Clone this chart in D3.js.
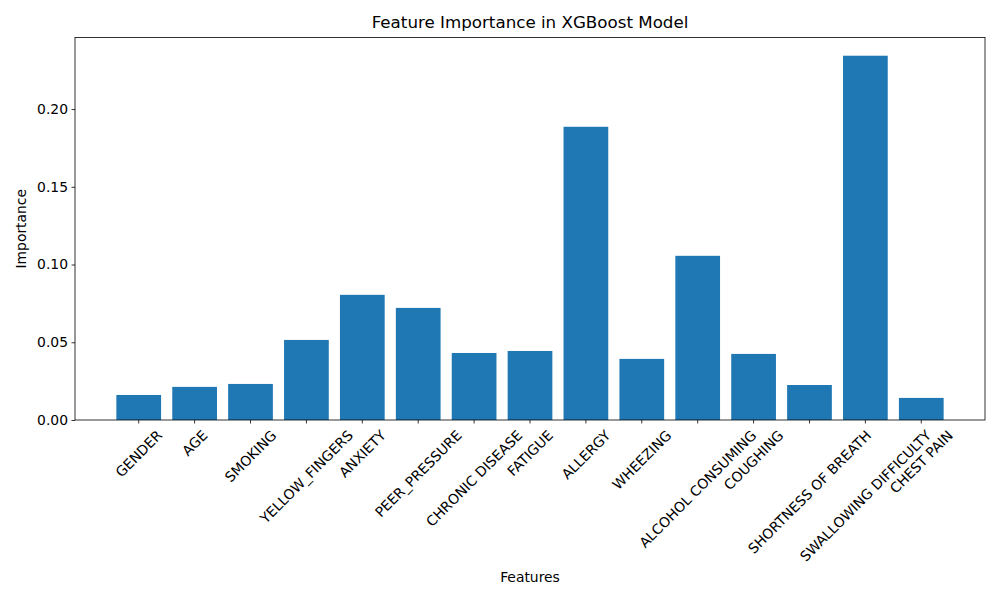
<!DOCTYPE html>
<html>
<head>
<meta charset="utf-8">
<script src="https://cdn.jsdelivr.net/npm/d3@7"></script>
<style>
  body { margin: 0; background: #fff; }
  text { font-family: "DejaVu Sans", sans-serif; fill: #000; }
</style>
</head>
<body>
<script>
// feature names and importance values
var features = ["GENDER", "AGE", "SMOKING", "YELLOW_FINGERS", "ANXIETY", "PEER_PRESSURE",
  "CHRONIC DISEASE", "FATIGUE", "ALLERGY", "WHEEZING", "ALCOHOL CONSUMING", "COUGHING",
  "SHORTNESS OF BREATH", "SWALLOWING DIFFICULTY", "CHEST PAIN"];
var importance = [0.0161, 0.0213, 0.0232, 0.0515, 0.0805, 0.0721,
  0.0431, 0.0444, 0.1886, 0.0393, 0.1056, 0.0425,
  0.0225, 0.2343, 0.0142];
var yTicks = [0, 0.05, 0.10, 0.15, 0.20];

var width = 1000, height = 600;
var margin = {top: 37.5, right: 15, bottom: 180, left: 75};
var barColor = "#1f77b4";
var fontPx = 13.9;

var svg = d3.select("body").append("svg")
    .attr("width", width)
    .attr("height", height);

// matplotlib-ish limits: bars of width 0.8, 5% margins
var n = features.length;
var xPad = (n - 1 + 0.8) * 0.05 + 0.4;
var x = d3.scaleLinear()
    .domain([-xPad, n - 1 + xPad])
    .range([margin.left, width - margin.right]);
var y = d3.scaleLinear()
    .domain([0, d3.max(importance) * 1.05])
    .range([height - margin.bottom, margin.top]);

var bw = x(0.8) - x(0);

svg.append("g").selectAll("rect")
    .data(importance)
    .enter().append("rect")
    .attr("x", function(d, i) { return x(i) - bw / 2; })
    .attr("y", function(d) { return y(d); })
    .attr("width", bw)
    .attr("height", function(d) { return y(0) - y(d); })
    .attr("fill", barColor);

// y axis
var yAxis = d3.axisLeft(y).tickValues(yTicks).tickFormat(d3.format(".2f")).tickSize(3.5).tickPadding(3.5);
var gy = svg.append("g").attr("transform", "translate(" + margin.left + ",0)").call(yAxis);
gy.select(".domain").remove();
gy.selectAll("text").style("font-size", fontPx + "px").style("font-family", "DejaVu Sans");
gy.selectAll("line").attr("stroke", "#000").attr("stroke-width", 0.8);

// x ticks
var gx = svg.append("g");
gx.selectAll("line")
    .data(features)
    .enter().append("line")
    .attr("x1", function(d, i) { return x(i); })
    .attr("x2", function(d, i) { return x(i); })
    .attr("y1", y(0))
    .attr("y2", y(0) + 3.5)
    .attr("stroke", "#000")
    .attr("stroke-width", 0.8);

// rotated labels, centred on the tick like matplotlib rotation=45
var labels = gx.selectAll("text")
    .data(features)
    .enter().append("text")
    .style("font-size", fontPx + "px")
    .attr("text-anchor", "middle")
    .attr("dominant-baseline", "central")
    .text(function(d) { return d; });

labels.each(function(d, i) {
  var w = this.getComputedTextLength();
  var h = fontPx * 1.17;
  var bh = (w + h) * Math.SQRT1_2;
  var cx = x(i), cy = y(0) + 3.5 + 3.5 + bh / 2;
  d3.select(this).attr("transform", "translate(" + cx + "," + cy + ") rotate(-45)");
});

// frame
svg.append("rect")
    .attr("x", margin.left)
    .attr("y", margin.top)
    .attr("width", width - margin.left - margin.right)
    .attr("height", y(0) - margin.top)
    .attr("fill", "none")
    .attr("stroke", "#000")
    .attr("stroke-width", 0.8);

// titles
svg.append("text")
    .attr("x", (margin.left + width - margin.right) / 2)
    .attr("y", 28)
    .attr("text-anchor", "middle")
    .style("font-size", "16.7px")
    .text("Feature Importance in XGBoost Model");

svg.append("text")
    .attr("x", (margin.left + width - margin.right) / 2)
    .attr("y", 582)
    .attr("text-anchor", "middle")
    .style("font-size", fontPx + "px")
    .text("Features");

svg.append("text")
    .attr("transform", "translate(26," + ((margin.top + y(0)) / 2) + ") rotate(-90)")
    .attr("text-anchor", "middle")
    .style("font-size", fontPx + "px")
    .text("Importance");
</script>
</body>
</html>
